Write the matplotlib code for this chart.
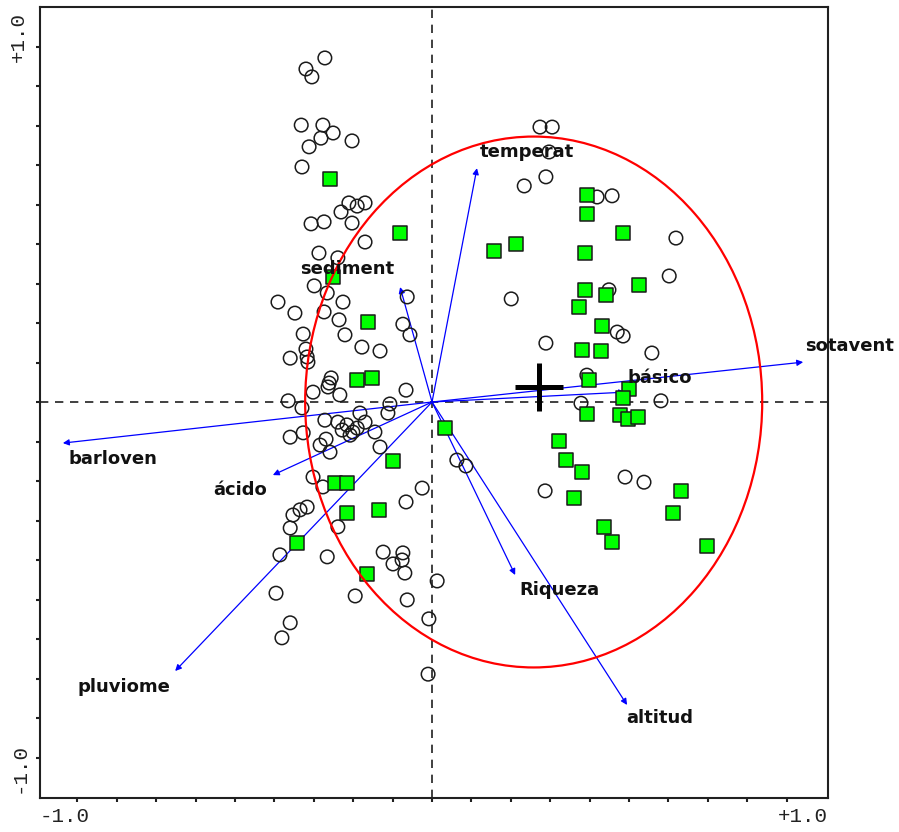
import numpy as np
import matplotlib.pyplot as plt
from matplotlib.patches import Ellipse

# Sample scores (axis 1, axis 2) - open circles
circle_x = [-0.272, -0.320, -0.305, -0.332, -0.277, -0.251, -0.282, -0.312, -0.203, -0.330,
            -0.211, -0.190, -0.170, -0.231, -0.307, -0.274, -0.203, -0.170,
            -0.287, -0.239, -0.299, -0.266, -0.391, -0.226, -0.348, -0.274, -0.063, -0.236,
            -0.074, -0.056, -0.327, -0.221, -0.320, -0.317, -0.360, -0.315, -0.178, -0.132,
            -0.256, -0.261, -0.264, -0.302, -0.234, -0.066, -0.365, -0.330, -0.107, -0.183,
            -0.112, -0.272, -0.239, -0.216, -0.170, -0.201, -0.228, -0.327, -0.360,
            -0.269, -0.284, -0.259, -0.208, -0.190, -0.145, -0.132, -0.302, -0.277, -0.025,
            -0.066, -0.317, -0.335, -0.353, -0.360, -0.239, -0.386, -0.266, -0.124, -0.074,
            -0.099, -0.076, -0.069, 0.013, -0.396, -0.195, -0.063, -0.008, -0.360, -0.381,
            -0.010,
            0.274, 0.305, 0.297, 0.234, 0.289, 0.419, 0.457, 0.619, 0.602, 0.449,
            0.201, 0.470, 0.485, 0.289, 0.558, 0.393, 0.378, 0.581, 0.063, 0.086,
            0.490, 0.538, 0.287]
circle_y = [0.871, 0.843, 0.823, 0.701, 0.701, 0.681, 0.668, 0.646, 0.661, 0.595,
            0.504, 0.496, 0.504, 0.481, 0.451, 0.456, 0.453, 0.405,
            0.377, 0.365, 0.294, 0.276, 0.253, 0.253, 0.225, 0.228, 0.266, 0.208,
            0.197, 0.170, 0.172, 0.170, 0.134, 0.114, 0.111, 0.101, 0.139, 0.129,
            0.061, 0.048, 0.038, 0.025, 0.018, 0.030, 0.003, -0.015, -0.005, -0.028,
            -0.028, -0.046, -0.051, -0.058, -0.051, -0.076, -0.071, -0.078, -0.089,
            -0.094, -0.109, -0.127, -0.084, -0.066, -0.076, -0.114, -0.190, -0.215, -0.218,
            -0.253, -0.266, -0.273, -0.286, -0.319, -0.316, -0.387, -0.392, -0.380, -0.382,
            -0.410, -0.400, -0.433, -0.453, -0.484, -0.491, -0.501, -0.549, -0.559, -0.597,
            -0.689,
            0.696, 0.696, 0.633, 0.547, 0.570, 0.519, 0.522, 0.415, 0.319, 0.284,
            0.261, 0.177, 0.167, 0.149, 0.124, 0.068, -0.003, 0.003, -0.147, -0.162,
            -0.190, -0.203, -0.225]

# Sample scores - green squares
square_x = [-0.259, -0.081, -0.251, -0.162, -0.190, -0.152, 0.033, -0.099, -0.246, -0.216,
            -0.216, -0.135, -0.343, -0.165,
            0.393, 0.393, 0.485, 0.157, 0.213, 0.388, 0.388, 0.442, 0.525, 0.373,
            0.431, 0.381, 0.429, 0.398, 0.500, 0.485, 0.393, 0.477, 0.497, 0.523,
            0.322, 0.340, 0.381, 0.360, 0.632, 0.612, 0.437, 0.457, 0.698]
square_y = [0.565, 0.428, 0.316, 0.203, 0.056, 0.061, -0.066, -0.149, -0.205, -0.205,
            -0.281, -0.273, -0.357, -0.435,
            0.524, 0.476, 0.428, 0.382, 0.400, 0.377, 0.284, 0.271, 0.296, 0.241,
            0.192, 0.132, 0.129, 0.056, 0.033, 0.010, -0.030, -0.033, -0.043, -0.038,
            -0.099, -0.147, -0.177, -0.243, -0.225, -0.281, -0.316, -0.354, -0.365]

# Environmental variables (biplot arrows)
env_names = ['temperat', 'sediment', 'sotavent', 'básico', 'barloven',
             'ácido', 'pluviome', 'Riqueza', 'altitud']
env_x = [0.114, -0.081, 0.942, 0.490, -0.937, -0.404, -0.652, 0.211, 0.495]
env_y = [0.592, 0.291, 0.101, 0.025, -0.104, -0.185, -0.681, -0.438, -0.767]

# Group centroid and ellipse
centroid = (0.272, 0.038)
ell_center = (0.258, 0.0)
ell_width = 1.160
ell_height = 1.344

# label placement next to arrow tips (pixels)
label_offsets = [(50, 16), (-53, 18), (46, 16), (35, 14), (50, -16),
                 (-33, -15), (-51, -16), (44, -15), (33, -13)]

fig = plt.figure(figsize=(8.99, 8.32), dpi=100)
ax = fig.add_axes([40 / 899, 34 / 832, 788 / 899, 791 / 832])
ax.set_xlim(-0.995, 1.005)
ax.set_ylim(-1.0025, 1.0)

ax.axhline(0, color='#202020', lw=1.2, ls=(0, (5, 4)), zorder=1)
ax.axvline(0, color='#202020', lw=1.2, ls=(0, (5, 4)), zorder=1)

for name, x, y in zip(env_names, env_x, env_y):
    ax.annotate('', xy=(x, y), xytext=(0, 0),
                arrowprops=dict(arrowstyle='-|>', color='#0000ff', lw=0.9,
                                mutation_scale=9, shrinkA=0, shrinkB=0),
                zorder=2)

ax.scatter(circle_x, circle_y, s=95, facecolors='none', edgecolors='#1a1a1a',
           linewidths=1.1, zorder=3)
ax.scatter(square_x, square_y, s=110, marker='s', facecolors='#00ff00',
           edgecolors='#1a1a1a', linewidths=1.1, zorder=4)

ell = Ellipse(ell_center, ell_width, ell_height, fill=False, edgecolor='#ff0000',
              lw=1.6, zorder=5)
ax.add_patch(ell)

ax.plot(*centroid, marker='+', ms=35, mew=3.6, color='black', zorder=6)

for name, x, y, off in zip(env_names, env_x, env_y, label_offsets):
    ax.annotate(name, xy=(x, y), xytext=off, textcoords='offset pixels',
                ha='center', va='center', fontsize=13, fontweight='bold',
                family='DejaVu Sans', color='#111111', zorder=7)

ax.set_xticks(np.arange(-0.9, 1.0, 0.1))
ax.set_yticks(np.arange(-0.9, 1.0, 0.1))
ax.tick_params(direction='out', length=3, width=1.5, labelbottom=False,
               labelleft=False, color='#202020')
for sp in ax.spines.values():
    sp.set_linewidth(1.5)
    sp.set_color('#202020')

mono = dict(family='Liberation Mono', fontsize=15, color='#222222')
ax.text(0, -0.012, '-1.0', transform=ax.transAxes, ha='left', va='top', **mono)
ax.text(1, -0.012, '+1.0', transform=ax.transAxes, ha='right', va='top', **mono)
ax.text(-0.015, 0.994, '+1.0', transform=ax.transAxes, ha='right', va='top',
        rotation=90, **mono)
ax.text(-0.015, 0.006, '-1.0', transform=ax.transAxes, ha='right', va='bottom',
        rotation=90, **mono)

fig.savefig('out.png', dpi=100)
